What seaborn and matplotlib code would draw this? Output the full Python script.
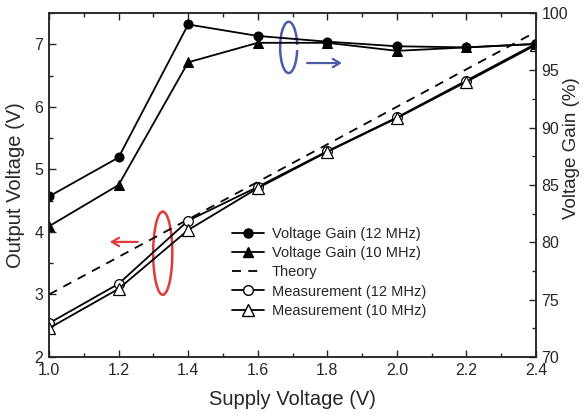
import matplotlib
matplotlib.use("Agg")
import matplotlib.pyplot as plt
from matplotlib.patches import Arc
from matplotlib.lines import Line2D
from matplotlib.ticker import MultipleLocator
import seaborn as sns
import pandas as pd

# ---- data ----
supply = [1.0, 1.2, 1.4, 1.6, 1.8, 2.0, 2.2, 2.4]
theory = [3.0, 3.6, 4.2, 4.8, 5.4, 6.0, 6.6, 7.2]
meas_12 = [2.54, 3.17, 4.18, 4.72, 5.29, 5.83, 6.42, 7.01]
meas_10 = [2.46, 3.09, 4.03, 4.70, 5.28, 5.82, 6.40, 6.99]
gain_12 = [84.0, 87.4, 99.0, 98.0, 97.5, 97.1, 97.0, 97.3]
gain_10 = [81.4, 85.0, 95.7, 97.4, 97.4, 96.7, 97.0, 97.3]
labels = ["Voltage Gain (12 MHz)", "Voltage Gain (10 MHz)", "Theory",
          "Measurement (12 MHz)", "Measurement (10 MHz)"]

df = pd.DataFrame({"supply": supply, "theory": theory, "m12": meas_12,
                   "m10": meas_10, "g12": gain_12, "g10": gain_10})

sns.set_style("ticks")
plt.rcParams["font.family"] = ["Liberation Sans", "DejaVu Sans"]
plt.rcParams["axes.linewidth"] = 1.1

fig = plt.figure(figsize=(5.84, 4.18), dpi=100)
ax = fig.add_axes([49 / 584, 1 - 357 / 418, (536 - 49) / 584, (357 - 13) / 418])
ax2 = ax.twinx()

lw = 1.3
dash = (0, (5, 4))
# left axis: output voltage
sns.lineplot(data=df, x="supply", y="theory", ax=ax, color="black", lw=lw,
             linestyle=dash, legend=False)
sns.lineplot(data=df, x="supply", y="m12", ax=ax, color="black", lw=lw,
             marker="o", markersize=7, markerfacecolor="white",
             markeredgecolor="black", markeredgewidth=0.9, legend=False)
sns.lineplot(data=df, x="supply", y="m10", ax=ax, color="black", lw=lw,
             marker="^", markersize=8, markerfacecolor="white",
             markeredgecolor="black", markeredgewidth=0.9, legend=False)
# right axis: voltage gain
sns.lineplot(data=df, x="supply", y="g12", ax=ax2, color="black", lw=lw,
             marker="o", markersize=6.5, markerfacecolor="black",
             markeredgecolor="black", legend=False)
sns.lineplot(data=df, x="supply", y="g10", ax=ax2, color="black", lw=lw,
             marker="^", markersize=7.5, markerfacecolor="black",
             markeredgecolor="black", legend=False)

ax.set_xlim(1.0, 2.4)
ax.set_ylim(2, 7.5)
ax2.set_ylim(70, 100)

fs_tick = 11.5
ax.xaxis.set_major_locator(MultipleLocator(0.2))
ax.xaxis.set_minor_locator(MultipleLocator(0.1))
ax.yaxis.set_major_locator(MultipleLocator(1))
ax.yaxis.set_minor_locator(MultipleLocator(0.5))
ax2.yaxis.set_major_locator(MultipleLocator(5))
ax2.yaxis.set_minor_locator(MultipleLocator(2.5))
ax.set_xticks(supply)
ax.set_xticklabels([f"{v:.1f}" for v in supply])
ax.tick_params(axis="x", which="both", direction="in", top=True, labelsize=fs_tick,
               pad=4)
ax.tick_params(axis="y", which="both", direction="in", right=False, labelsize=fs_tick,
               pad=4)
ax.tick_params(which="major", length=5, width=1.0)
ax.tick_params(which="minor", length=3, width=1.0)
ax2.tick_params(axis="y", which="both", direction="in", labelsize=fs_tick, pad=4)
ax2.tick_params(which="major", length=5, width=1.0)
ax2.tick_params(which="minor", length=3, width=1.0)
for a in (ax, ax2):
    for s in a.spines.values():
        s.set_visible(True)
        s.set_linewidth(1.1)

ax.set_xlabel("Supply Voltage (V)", fontsize=14.5, labelpad=9)
ax.set_ylabel("Output Voltage (V)", fontsize=14.5, labelpad=7)
ax2.set_ylabel("Voltage Gain (%)", fontsize=13.5, rotation=90)
ax2.yaxis.set_label_coords((563 - 49) / 487, 0.607)

# annotations
red = "#e03a3a"
blue = "#4b5ba6"
ax.add_patch(Arc((1.327, 3.66), 0.055, 1.33, theta1=205, theta2=185,
                 color=red, lw=1.8))
ax.annotate("", xy=(1.175, 3.84), xytext=(1.255, 3.84),
            arrowprops=dict(arrowstyle="->,head_length=0.5,head_width=0.3",
                            color=red, lw=1.6, shrinkA=0, shrinkB=0))
ax.add_patch(Arc((1.689, 6.95), 0.049, 0.82, theta1=60, theta2=300,
                 color=blue, lw=1.8))
ax.annotate("", xy=(1.842, 6.70), xytext=(1.742, 6.70),
            arrowprops=dict(arrowstyle="->,head_length=0.5,head_width=0.3",
                            color=blue, lw=1.6, shrinkA=0, shrinkB=0))

# legend
handles = [
    Line2D([], [], color="black", lw=lw, marker="o", markersize=6.5,
           markerfacecolor="black", markeredgecolor="black"),
    Line2D([], [], color="black", lw=lw, marker="^", markersize=7.5,
           markerfacecolor="black", markeredgecolor="black"),
    Line2D([], [], color="black", lw=lw, linestyle=dash),
    Line2D([], [], color="black", lw=lw, marker="o", markersize=7,
           markerfacecolor="white", markeredgecolor="black"),
    Line2D([], [], color="black", lw=lw, marker="^", markersize=8,
           markerfacecolor="white", markeredgecolor="black"),
]
leg = ax2.legend(handles, labels, loc="upper left",
                 bbox_to_anchor=(222 / 584, 1 - 217 / 418),
                 bbox_transform=fig.transFigure, frameon=False,
                 fontsize=10.5, handlelength=2.2, handletextpad=0.5,
                 labelspacing=0.35, borderpad=0.2)

fig.savefig("out.png", dpi=100)
